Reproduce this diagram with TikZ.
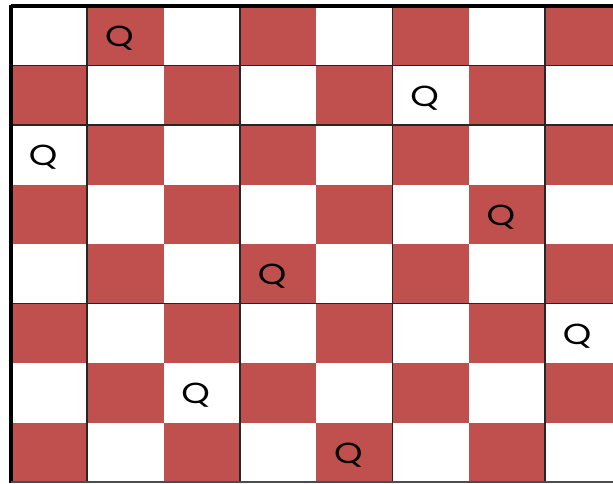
\documentclass[tikz,border=0pt]{standalone}
\usepackage{fontspec}
\setmainfont{Poppins}
\definecolor{boardred}{HTML}{C0504D}
\begin{document}
\begin{tikzpicture}[x=1pt,y=-1pt,
  redcell/.style={fill=boardred},
  gridline/.style={line width=1.8pt, black!85},
  border/.style={line width=3.5pt, black},
  queen/.style={font=\fontsize{29}{29}\selectfont, inner sep=0pt}]
\useasboundingbox (0,0) rectangle (613,483);
\fill[white] (0,0) rectangle (613,483);
\begin{scope}
\clip (0,0) rectangle (613,483);
\foreach \r in {0,...,7} {
  \foreach \c in {0,...,8} {
    \pgfmathtruncatemacro{\odd}{mod(\r+\c,2)}
    \ifnum\odd=1
      \fill[redcell] ({11+76.3*\c},{6+59.5*\r}) rectangle ++(76.3,59.5);
    \fi
  }
}
\foreach \c in {1,3,5,7} \draw[gridline] ({11+76.3*\c},6) -- ({11+76.3*\c},482);
\foreach \r in {1,2,5} \draw[gridline] (11,{6+59.5*\r}) -- (620,{6+59.5*\r});
\draw[border] (11,6) -- (620,6);
\draw[border] (11,4.5) -- (11,483);
\draw[line width=1.5pt, black!70] (11,482) -- (620,482);
\end{scope}
\foreach \r/\c in {0/1,1/5,2/0,3/6,4/3,5/7,6/2,7/4}
  \node[queen] (q\r) at ({11+76.3*\c+38.15-6},{6+59.5*\r+32.5}) {\scalebox{1.25}[1]{Q}};
\end{tikzpicture}
\end{document}
